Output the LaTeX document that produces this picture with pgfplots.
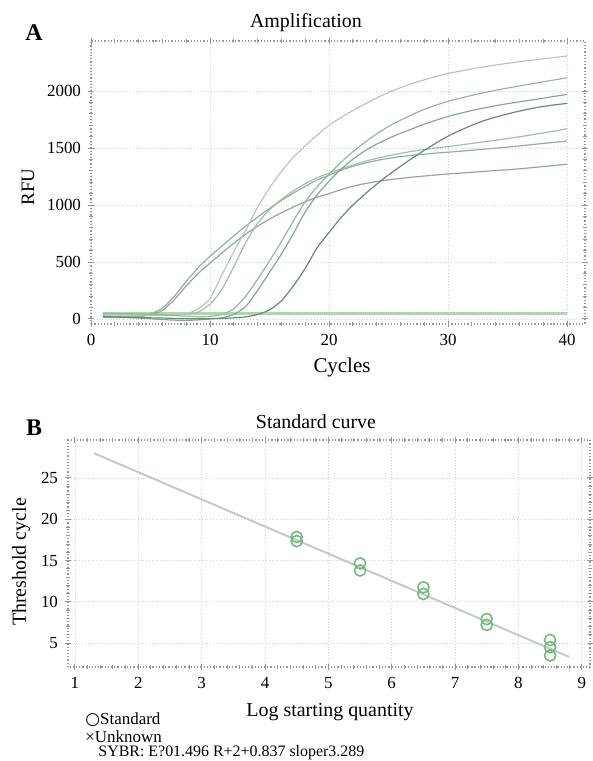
\documentclass[border=0pt]{standalone}
\usepackage{fontspec}
\setmainfont{Liberation Serif}
\newfontfamily\symfont{DejaVu Sans}
\usepackage{pgfplots}
\usepackage{pgfplotstable}
\pgfplotsset{compat=1.18}

\definecolor{cT}{RGB}{180,202,184}
\definecolor{cGa}{RGB}{148,184,158}
\definecolor{cGb}{RGB}{128,172,142}
\definecolor{cH}{RGB}{96,144,110}
\definecolor{cF}{RGB}{160,192,168}
\definecolor{cEh}{RGB}{142,178,152}
\definecolor{cEl}{RGB}{138,172,148}
\definecolor{cN}{RGB}{170,218,170}
\definecolor{cPt}{RGB}{116,186,122}
\definecolor{cFit}{RGB}{190,205,192}
\definecolor{cFrame}{RGB}{150,150,150}

% amplification curves, one column per well
\pgfplotstableread{
c  T    Ga   Gb   H    F    Eh   El
1  38   50   15   20   42   28   22
2  36   48   14   18   40   25   18
3  34   46   12   15   38   22   15
4  33   44   8    12   37   25   20
5  33   40   2    10   36   45   35
6  34   35   -5   8    36   95   75
7  36   30   -10  5    38   200  170
8  45   25   -12  3    42   330  290
9  90   20   -8   2    60   450  400
10 180  22   0    3    130  550  490
11 390  40   10   5    260  640  580
12 590  90   40   10   460  730  665
13 780  200  110  18   670  815  745
14 980  350  250  40   840  895  815
15 1150 510  410  80   960  970  878
16 1295 680  570  160  1050 1040 933
17 1420 860  750  290  1125 1105 983
18 1520 1030 940  445  1188 1165 1030
19 1615 1160 1090 625  1240 1220 1070
20 1700 1270 1210 760  1280 1262 1100
21 1768 1375 1315 890  1318 1305 1135
22 1830 1468 1402 1000 1352 1340 1165
23 1886 1550 1475 1095 1383 1368 1188
24 1940 1625 1535 1183 1410 1391 1206
25 1988 1690 1585 1265 1433 1410 1221
26 2030 1745 1630 1340 1454 1425 1234
27 2068 1795 1670 1412 1472 1437 1245
28 2100 1840 1710 1480 1488 1447 1255
29 2129 1878 1745 1545 1501 1456 1264
30 2155 1910 1778 1605 1513 1464 1273
31 2175 1938 1805 1655 1527 1472 1280
32 2195 1963 1830 1700 1541 1481 1288
33 2213 1986 1852 1740 1555 1490 1295
34 2229 2007 1872 1772 1569 1499 1303
35 2244 2027 1890 1800 1584 1509 1310
36 2258 2046 1906 1825 1599 1519 1318
37 2271 2064 1922 1847 1616 1530 1328
38 2284 2082 1938 1866 1633 1541 1338
39 2296 2100 1955 1880 1651 1551 1348
40 2307 2117 1971 1892 1670 1562 1358
}\amp

\pgfplotsset{
  qpcr/.style={
    scale only axis,
    axis line style={cFrame, densely dotted, line width=0.6pt},
    tick style={cFrame, line width=0.5pt},
    tick align=center,
    major tick length=3bp,
    minor tick length=2bp,
    grid=major,
    major grid style={densely dotted, gray!35},
    ticklabel style={font=\fontsize{8.5}{10}\selectfont},
    /pgf/number format/assume math mode=true,
    /pgf/number format/1000 sep={},
  },
}

\begin{document}
\begin{tikzpicture}[x=1bp,y=1bp]
\useasboundingbox (0,0) rectangle (296.5,380.5);

% A: amplification
\begin{axis}[qpcr,
  at={(45.5bp,218.5bp)}, anchor=south west,
  width=247bp, height=141.5bp,
  xmin=0, xmax=41.5, ymin=-44, ymax=2440,
  xtick={0,10,...,40}, ytick={0,500,...,2000},
  minor x tick num=4, minor y tick num=4,
  every axis plot/.append style={no marks, line width=0.6pt, smooth, tension=0.4},
]
\addplot[cN, line width=1.1pt] coordinates {(1,48) (40,48)};
\addplot[cN, line width=1.1pt] coordinates {(1,56) (40,56)};
\addplot[cEl] table[x=c, y=El]{\amp};
\addplot[cEh] table[x=c, y=Eh]{\amp};
\addplot[cF]  table[x=c, y=F]{\amp};
\addplot[cT]  table[x=c, y=T]{\amp};
\addplot[cGa] table[x=c, y=Ga]{\amp};
\addplot[cGb] table[x=c, y=Gb]{\amp};
\addplot[cH]  table[x=c, y=H]{\amp};
\end{axis}

% B: standard curve
\begin{axis}[qpcr,
  at={(34bp,47bp)}, anchor=south west,
  width=261bp, height=113.5bp,
  xmin=0.89, xmax=9.13, ymin=2.1, ymax=29.6,
  xtick={1,...,9}, ytick={5,10,...,25},
  minor x tick num=4, minor y tick num=4,
]
\addplot[cFit, line width=1pt, no marks] coordinates {(1.3,28.0) (8.8,3.33)};
\addplot[only marks, mark=o, mark size=2.8bp, cPt, mark options={line width=0.8pt}]
  coordinates {
  (4.5,17.85) (4.5,17.35)
  (5.5,14.65) (5.5,13.8)
  (6.5,11.75) (6.5,10.95)
  (7.5,7.9) (7.5,7.2)
  (8.5,5.37) (8.5,4.5) (8.5,3.5)
  };
\end{axis}

\node[font=\fontsize{12}{14}\selectfont\bfseries] at (17,364) {A};
\node[font=\fontsize{10}{12}\selectfont] at (153,369) {Amplification};
\node[font=\fontsize{9.5}{11}\selectfont, rotate=90] at (14,287) {RFU};
\node[font=\fontsize{10.5}{12}\selectfont] at (171,197) {Cycles};

\node[font=\fontsize{12}{14}\selectfont\bfseries] at (17,166.5) {B};
\node[font=\fontsize{10}{12}\selectfont] at (158,169.5) {Standard curve};
\node[font=\fontsize{10}{12}\selectfont, rotate=90] at (10.5,99.5) {Threshold cycle};
\node[font=\fontsize{10}{12}\selectfont] at (165,24.5) {Log starting quantity};

\node[font=\fontsize{8.5}{10}\selectfont, anchor=west, inner sep=0pt] at (42.5,20.5) {{\symfont\fontsize{8.5}{9}\selectfont ○}Standard};
\node[font=\fontsize{8.5}{10}\selectfont, anchor=west, inner sep=0pt] at (42.5,12) {×Unknown};
\node[font=\fontsize{8}{10}\selectfont, anchor=west, inner sep=0pt] at (49,4) {SYBR: E?01.496 R+2+0.837 sloper3.289};
\end{tikzpicture}
\end{document}
